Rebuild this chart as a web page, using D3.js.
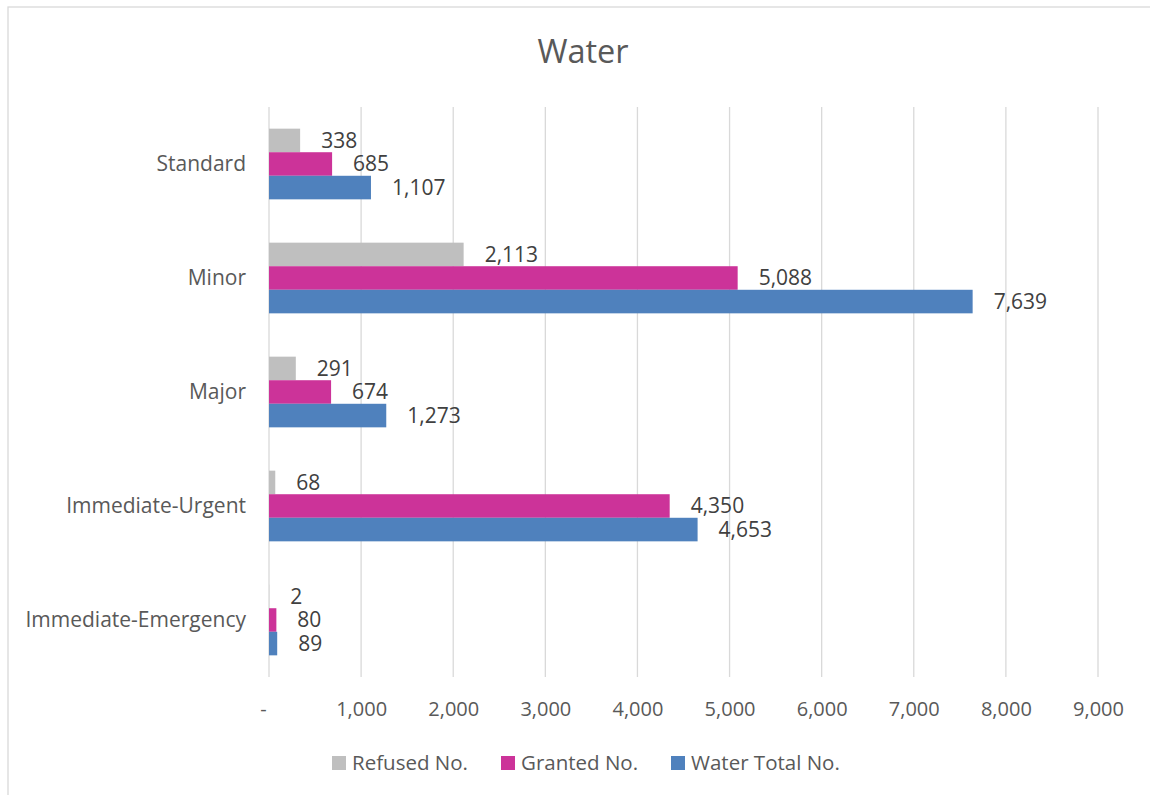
<!DOCTYPE html>
<html><head><meta charset="utf-8">
<script src="https://cdn.jsdelivr.net/npm/d3@7"></script>
<style>body{margin:0;background:#fff}svg{display:block}</style>
</head><body>
<svg id="c" width="1150" height="795"></svg>
<script>
const categories = ["Standard","Minor","Major","Immediate-Urgent","Immediate-Emergency"];
const seriesNames = ["Refused No.","Granted No.","Water Total No."];
const refused = [338,2113,291,68,2];
const granted = [685,5088,674,4350,80];
const waterTotal = [1107,7639,1273,4653,89];
const xTicks = [0,1000,2000,3000,4000,5000,6000,7000,8000,9000];
const colors = ["#bfbfbf","#cc3399","#4f81bd"];
const seriesValues = [refused, granted, waterTotal];

const svg = d3.select("#c");
const font = "'Open Sans', 'Noto Sans', sans-serif";
svg.append("rect").attr("x",8).attr("y",7).attr("width",1160).attr("height",800)
  .attr("fill","#fff").attr("stroke","#d9d9d9").attr("stroke-width",1.3);

svg.append("text").attr("x",583).attr("y",63).attr("text-anchor","middle")
  .attr("font-family",font).attr("font-size",32.5).attr("fill","#595959").text("Water");

const x = d3.scaleLinear().domain([0,9000]).range([269,1098]);
const y0 = d3.scaleBand().domain(categories).range([107,677]).paddingInner(0.38).paddingOuter(0.19);
const y1 = d3.scaleBand().domain(seriesNames).range([0,y0.bandwidth()]);

// gridlines
svg.append("g").selectAll("line").data(xTicks).join("line")
  .attr("x1",d=>x(d)).attr("x2",d=>x(d)).attr("y1",107).attr("y2",677)
  .attr("stroke","#d9d9d9").attr("stroke-width",1.3);

// x axis labels
const xAxis = d3.axisBottom(x).tickValues(xTicks).tickSize(0).tickPadding(0)
  .tickFormat(d=> d===0 ? "-" : d3.format(",")(d));
const gx = svg.append("g").attr("transform","translate(0,702)").call(xAxis);
gx.select(".domain").remove();
gx.selectAll("text").attr("font-family",font).attr("font-size",20).attr("fill","#595959")
  .attr("dx",d=>d===0?-6:0);

// y axis labels
const yAxis = d3.axisLeft(y0).tickSize(0).tickPadding(0);
const gy = svg.append("g").attr("transform","translate(246,0)").call(yAxis);
gy.select(".domain").remove();
gy.selectAll("text").attr("font-family",font).attr("font-size",21).attr("fill","#595959");

// bars
const data = [];
categories.forEach((c,i)=>seriesNames.forEach((s,j)=>data.push({c,s,j,v:seriesValues[j][i]})));
const g = svg.append("g");
g.selectAll("rect").data(data).join("rect")
  .attr("x",x(0)).attr("y",d=>y0(d.c)+y1(d.s))
  .attr("width",d=>x(d.v)-x(0)).attr("height",y1.bandwidth())
  .attr("fill",d=>colors[d.j]);
g.selectAll("text").data(data).join("text")
  .attr("x",d=>x(d.v)+21).attr("y",d=>y0(d.c)+y1(d.s)+y1.bandwidth()/2)
  .attr("dy","0.35em").attr("font-family",font).attr("font-size",21).attr("fill","#404040")
  .text(d=>d3.format(",")(d.v));

// legend
const legX = [332,501,671];
const lg = svg.append("g");
seriesNames.forEach((s,j)=>{
  lg.append("rect").attr("x",legX[j]).attr("y",756).attr("width",14).attr("height",14).attr("fill",colors[j]);
  lg.append("text").attr("x",legX[j]+20).attr("y",763).attr("dy","0.35em")
    .attr("font-family",font).attr("font-size",20.5).attr("fill","#595959").text(s);
});
</script>
</body></html>
